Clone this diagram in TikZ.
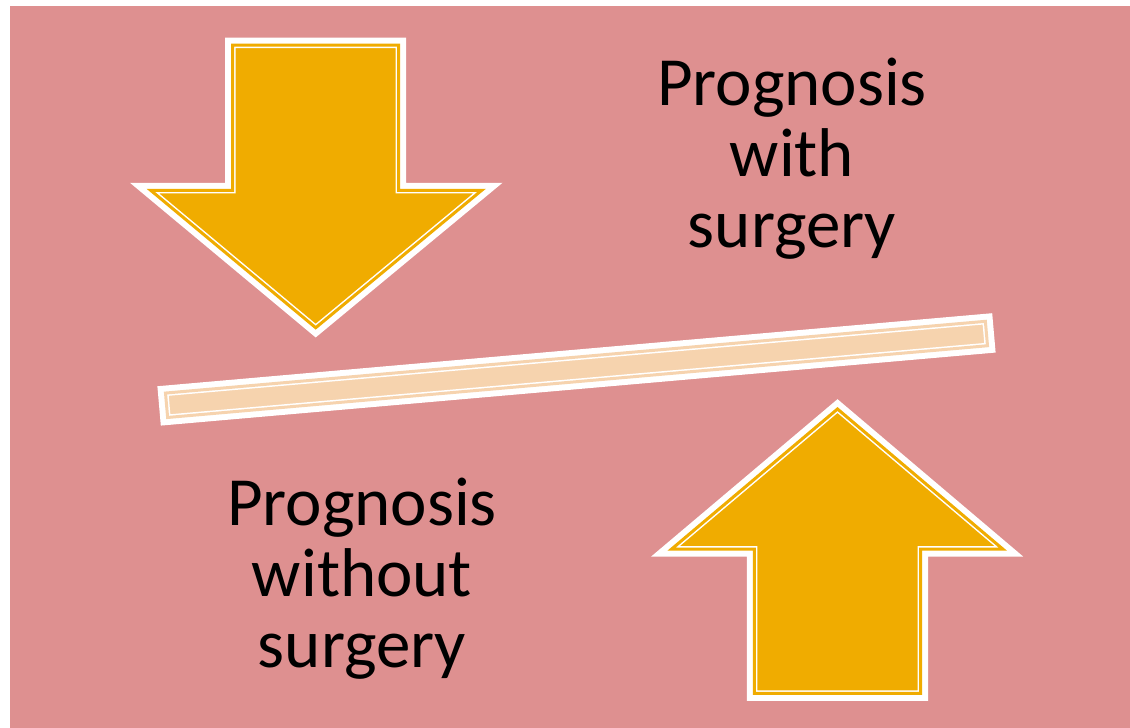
\documentclass[tikz,border=0pt]{standalone}
\usepackage{fontspec}
\setmainfont{Carlito}
\usetikzlibrary{positioning}
\definecolor{slidepink}{RGB}{222,144,144}
\definecolor{arrowgold}{RGB}{240,172,0}
\definecolor{beampeach}{RGB}{246,211,174}

\begin{document}
\begin{tikzpicture}[
        x=1pt, y=-1pt,
        % Shape styles
        framed/.style={preaction={draw=white, line width=15pt}, fill=#1, postaction={draw=white, line width=1.5pt, double=#1, double distance=3pt}},
        arrowshape/.style={framed=arrowgold, line join=miter},
        beambox/.style={rectangle, framed=beampeach, minimum width=823pt, minimum height=24.5pt, inner sep=0pt, rotate=5},
        labeltext/.style={align=center, font=\fontsize{69}{71}\selectfont, text=black, inner sep=0pt, anchor=base}
    ]

    % --- BACKGROUND ---
    \useasboundingbox (0,0) rectangle (1130,728);
    \fill [white] (0,0) rectangle (1130,728);
    \fill [slidepink] (10,6) rectangle (1130,728);

    % --- DOWN ARROW ---
    \path [arrowshape] (232.7,45) -- (398.7,45) -- (398.7,190.3) -- (481.7,190.3) -- (315.7,327.7) -- (150.7,190.3) -- (232.7,190.3) -- cycle;

    % --- UP ARROW ---
    \path [arrowshape] (754.3,693.3) -- (920.7,693.3) -- (920.7,549) -- (1002.7,549) -- (837.5,409) -- (671.7,549) -- (754.3,549) -- cycle;

    % --- TILTED BEAM ---
    \node (beam) [beambox] at (576.5,369.4) {};

    % --- LABELS (anchored at the last baseline) ---
    \node (withsurgery) [labeltext] at (792,247) {Prognosis\\with\\surgery};
    \node (withoutsurgery) [labeltext] at (362,667) {Prognosis\\without\\surgery};

\end{tikzpicture}
\end{document}
